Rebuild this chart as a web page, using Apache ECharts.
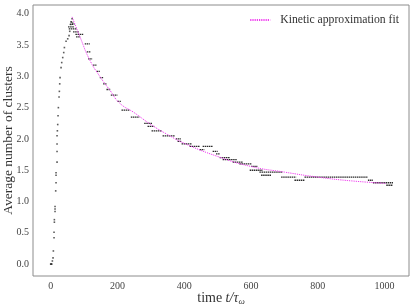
<!DOCTYPE html>
<html>
<head>
<meta charset="utf-8">
<script src="https://cdn.jsdelivr.net/npm/echarts@6/dist/echarts.min.js"></script>
<style>
  html, body { margin: 0; padding: 0; background: #fff; }
  #chart { width: 415px; height: 308px; }
</style>
</head>
<body>
<div id="chart"></div>
<script>
// simulation points during the rise (time, clusters)
var riseT = [0, 1, 2, 3, 5, 7, 8, 10, 10, 11, 11, 13, 13, 13, 15, 16, 16, 16, 19, 19, 19, 19, 20, 21, 22, 23, 25, 26, 27, 28, 31, 33, 36, 39, 41, 46, 51, 55, 57, 60, 62, 64, 66];
var riseV = [0, 0, 0, 0, 0.05, 0.1, 0.21, 0.42, 0.51, 0.67, 0.71, 0.84, 0.88, 0.92, 1.17, 1.3, 1.42, 1.46, 1.63, 1.8, 1.92, 2.05, 2.13, 2.23, 2.37, 2.5, 2.67, 2.76, 2.88, 2.98, 3.14, 3.22, 3.3, 3.38, 3.46, 3.56, 3.6, 3.65, 3.72, 3.83, 3.87, 3.92, 3.85];

// plateaus of the simulation after the peak: start time, end time, value
var runStart = [59, 57, 52, 54, 67, 74, 76, 102, 108, 112, 127, 137, 147, 157, 167, 180, 200, 212, 240, 280, 290, 302, 335, 375, 380, 392, 416, 446, 455, 485, 495, 506, 515, 545, 565, 600, 596, 625, 630, 690, 730, 760, 950, 965, 1005];
var runEnd   = [64, 71, 71, 77, 84, 99, 89, 117, 120, 125, 137, 147, 157, 167, 180, 200, 210, 237, 266, 305, 310, 332, 371, 390, 392, 422, 446, 460, 485, 500, 506, 536, 557, 575, 601, 620, 635, 695, 660, 735, 760, 950, 965, 1025, 1025];
var runValue = [3.87, 3.83, 3.79, 3.76, 3.71, 3.67, 3.63, 3.52, 3.39, 3.28, 3.18, 3.08, 2.98, 2.88, 2.79, 2.7, 2.6, 2.46, 2.35, 2.25, 2.2, 2.13, 2.05, 2.0, 1.96, 1.92, 1.88, 1.83, 1.88, 1.8, 1.76, 1.7, 1.67, 1.63, 1.6, 1.56, 1.5, 1.47, 1.42, 1.39, 1.34, 1.39, 1.34, 1.3, 1.26];

// kinetic approximation fit
var fitT = [64, 87, 117, 147, 177, 207, 250, 300, 350, 400, 500, 600, 700, 800, 900, 1005];
var fitV = [3.95, 3.64, 3.26, 3.0, 2.78, 2.57, 2.42, 2.23, 2.07, 1.93, 1.72, 1.56, 1.47, 1.39, 1.33, 1.29];

var xTicks = [0, 200, 400, 600, 800, 1000];
var yTicks = [0, 0.5, 1, 1.5, 2, 2.5, 3, 3.5, 4];

var serif = '"Liberation Serif", "DejaVu Serif", serif';

var chart = echarts.init(document.getElementById('chart'));

var option = {
  animation: false,
  backgroundColor: '#fff',
  grid: {
    left: 33,
    right: 6,
    top: 5,
    bottom: 32,
    outerBoundsMode: 'none',
    containLabel: false,
    show: true,
    borderColor: '#8c8c8c',
    borderWidth: 1
  },
  legend: {
    top: 14,
    right: 16,
    padding: 0,
    itemWidth: 20,
    itemHeight: 8,
    itemGap: 6,
    itemStyle: { opacity: 0 },
    data: ['Kinetic approximation fit'],
    textStyle: { fontFamily: serif, fontSize: 11.7, color: '#333', padding: [0, 0, 0, 5] }
  },
  xAxis: {
    type: 'value',
    min: -53,
    max: 1073,
    axisLine: { show: false },
    axisTick: { show: false },
    splitLine: { show: false },
    axisLabel: {
      customValues: xTicks,
      margin: 5,
      fontFamily: serif,
      fontSize: 10,
      color: '#444',
      formatter: function (v) { return String(v); }
    },
    name: '{a|time }{i|t/τ}{s|ω}',
    nameLocation: 'middle',
    nameGap: 15,
    nameMoveOverlap: false,
    nameTextStyle: {
      rich: {
        a: { fontFamily: serif, fontSize: 14, color: '#333' },
        i: { fontFamily: serif, fontSize: 14, fontStyle: 'italic', color: '#333' },
        s: { fontFamily: serif, fontSize: 9, fontStyle: 'italic', color: '#333', padding: [6, 0, 0, 0] }
      }
    }
  },
  yAxis: {
    type: 'value',
    min: -0.19,
    max: 4.14,
    axisLine: { show: false },
    axisTick: { show: false },
    splitLine: { show: false },
    axisLabel: {
      customValues: yTicks,
      margin: 4,
      fontFamily: serif,
      fontSize: 10,
      color: '#444',
      formatter: function (v) { return v.toFixed(1); }
    },
    name: 'Average number of clusters',
    nameLocation: 'middle',
    nameGap: 18,
    nameMoveOverlap: false,
    nameTextStyle: { fontFamily: serif, fontSize: 13.5, color: '#333' }
  },
  series: [{
    name: 'rise',
    type: 'scatter',
    symbol: 'rect',
    symbolSize: [1.6, 1.6],
    itemStyle: { color: '#333' },
    data: riseT.map(function (t, i) { return [t, riseV[i]]; })
  }, {
    name: 'plateaus',
    type: 'custom',
    encode: { x: [0, 1], y: 2 },
    data: runStart.map(function (t, i) { return [t, runEnd[i], runValue[i]]; }),
    renderItem: function (params, api) {
      var p0 = api.coord([api.value(0), api.value(2)]);
      var p1 = api.coord([api.value(1), api.value(2)]);
      return {
        type: 'line',
        shape: { x1: p0[0], y1: p0[1], x2: p1[0], y2: p1[1] },
        style: { stroke: '#2a2a2a', lineWidth: 1.3, lineDash: [1.5, 0.6] }
      };
    }
  }, {
    name: 'Kinetic approximation fit',
    type: 'line',
    smooth: true,
    symbol: 'none',
    z: 3,
    lineStyle: { color: '#f03cf0', width: 1, type: [1.2, 1] },
    itemStyle: { color: '#f03cf0' },
    data: fitT.map(function (t, i) { return [t, fitV[i]]; })
  }]
};

chart.setOption(option);
</script>
</body>
</html>
